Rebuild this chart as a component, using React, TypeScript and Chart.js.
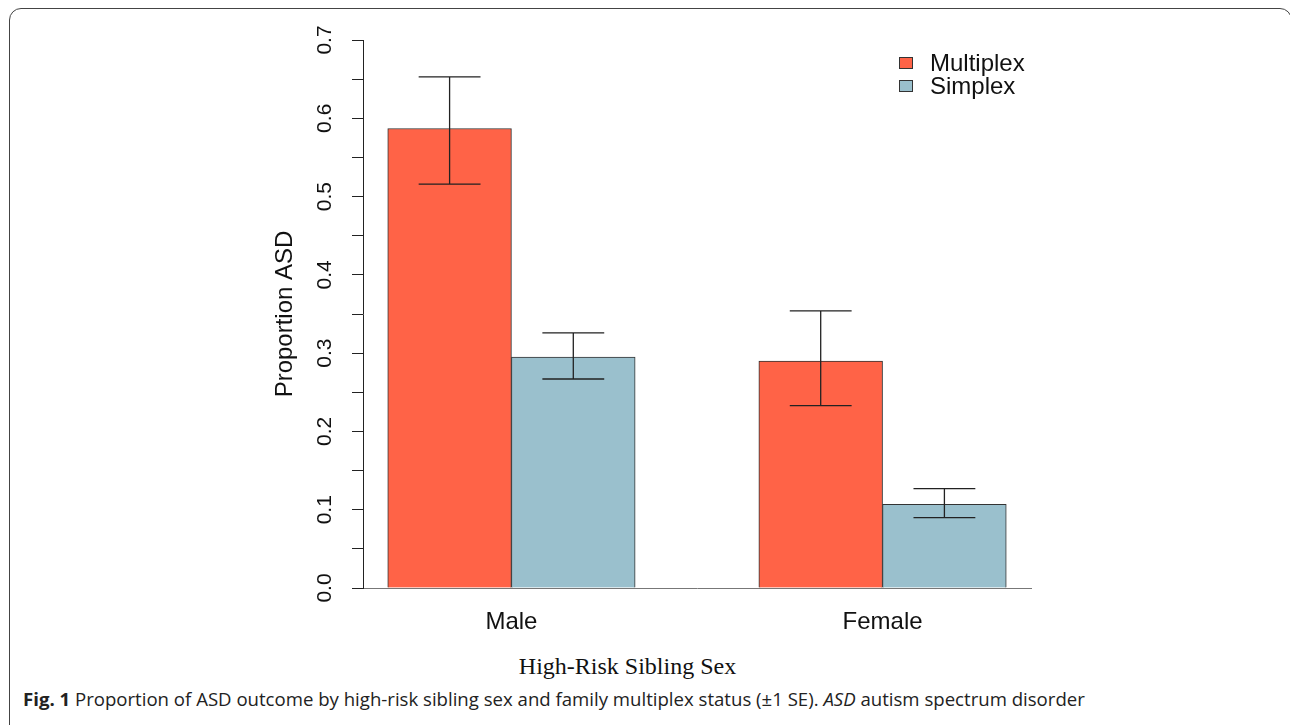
import React, { useEffect, useRef } from 'react';
import { Chart, registerables } from 'chart.js';

Chart.register(...registerables);

// ---- data ----
const categories = ['Male', 'Female'];
const seriesNames = ['Multiplex', 'Simplex'];
const multiplexValues = [0.587, 0.29];
const multiplexLower = [0.516, 0.233];
const multiplexUpper = [0.653, 0.354];
const simplexValues = [0.295, 0.107];
const simplexLower = [0.267, 0.09];
const simplexUpper = [0.326, 0.127];
const yTickLabels = ['0.0', '0.1', '0.2', '0.3', '0.4', '0.5', '0.6', '0.7'];
const seriesColors = ['#FF6347', '#9AC0CD'];

const lowerBySeries = [multiplexLower, simplexLower];
const upperBySeries = [multiplexUpper, simplexUpper];

// barplot layout: each group is two unit-wide bars, groups separated by one unit
const groupCenter = (i: number) => 2 + 3 * i;

const errorBarPlugin = {
  id: 'errorBars',
  afterDatasetsDraw(chart: any) {
    const ctx = chart.ctx;
    const yScale = chart.scales.y;
    chart.data.datasets.forEach((_ds: any, di: number) => {
      const meta = chart.getDatasetMeta(di);
      meta.data.forEach((el: any, i: number) => {
        const x = el.x;
        const half = el.width / 4;
        const yl = yScale.getPixelForValue(lowerBySeries[di][i]);
        const yh = yScale.getPixelForValue(upperBySeries[di][i]);
        ctx.save();
        ctx.strokeStyle = '#222';
        ctx.lineWidth = 1.3;
        ctx.beginPath();
        ctx.moveTo(x, yl);
        ctx.lineTo(x, yh);
        ctx.moveTo(x - half, yl);
        ctx.lineTo(x + half, yl);
        ctx.moveTo(x - half, yh);
        ctx.lineTo(x + half, yh);
        ctx.stroke();
        ctx.restore();
      });
    });
  },
};

const SANS = "'Liberation Sans', Arial, Helvetica, sans-serif";

export default function App() {
  const canvasRef = useRef<HTMLCanvasElement | null>(null);

  useEffect(() => {
    if (!canvasRef.current) return;
    const chart = new Chart(canvasRef.current, {
      type: 'bar',
      data: {
        datasets: [
          {
            label: seriesNames[0],
            data: multiplexValues.map((v, i) => ({ x: groupCenter(i) - 0.5, y: v })),
            backgroundColor: seriesColors[0],
            borderColor: '#333',
            borderWidth: 1,
            grouped: false,
            barPercentage: 1,
            categoryPercentage: 1,
          } as any,
          {
            label: seriesNames[1],
            data: simplexValues.map((v, i) => ({ x: groupCenter(i) + 0.5, y: v })),
            backgroundColor: seriesColors[1],
            borderColor: '#333',
            borderWidth: 1,
            grouped: false,
            barPercentage: 1,
            categoryPercentage: 1,
          } as any,
        ],
      },
      options: {
        animation: false,
        responsive: true,
        maintainAspectRatio: false,
        layout: { padding: { left: 253, right: 259, top: 40, bottom: 12 } },
        plugins: { legend: { display: false }, tooltip: { enabled: false } },
        scales: {
          x: {
            type: 'linear',
            min: 0.8,
            max: 6.2,
            offset: false,
            afterBuildTicks: (s: any) => {
              s.ticks = categories.map((_c, i) => ({ value: groupCenter(i) }));
            },
            afterFit: (s: any) => {
              s.height = 50;
            },
            grid: { display: false },
            border: { display: true, color: '#777', width: 1 },
            ticks: {
              autoSkip: false,
              maxRotation: 0,
              padding: 12,
              color: '#111',
              font: { family: SANS, size: 24 },
              callback: (_v: any, i: number) => categories[i],
            },
          } as any,
          y: {
            min: 0,
            max: 0.7,
            afterFit: (s: any) => {
              s.width = 110;
            },
            grid: { drawOnChartArea: false, drawTicks: true, tickLength: 11, color: '#222' },
            border: { display: true, color: '#222', width: 1 },
            ticks: {
              stepSize: 0.05,
              autoSkip: false,
              minRotation: 90,
              maxRotation: 90,
              crossAlign: 'center',
              padding: 12,
              color: '#111',
              font: { family: SANS, size: 21 },
              callback: (v: any) => {
                const k = Math.round(Number(v) * 20);
                return k % 2 === 0 ? yTickLabels[k / 2] : '';
              },
            },
            title: {
              display: true,
              text: 'Proportion ASD',
              color: '#111',
              font: { family: SANS, size: 24 },
              padding: { top: 18, bottom: 0 },
            },
          } as any,
        },
      },
      plugins: [errorBarPlugin],
    });
    return () => chart.destroy();
  }, []);

  return (
    <div
      style={{
        position: 'fixed',
        left: 0,
        top: 0,
        width: 1290,
        height: 725,
        overflow: 'hidden',
        background: '#fff',
      }}
    >
      <div
        style={{
          position: 'absolute',
          left: 9,
          top: 8,
          width: 1283,
          height: 740,
          border: '1.5px solid #444',
          borderRadius: 12,
          boxSizing: 'border-box',
        }}
      />
      <div style={{ position: 'absolute', left: 0, top: 0, width: 1290, height: 650 }}>
        <canvas ref={canvasRef} />
      </div>
      {/* legend */}
      {seriesNames.map((name, i) => (
        <React.Fragment key={name}>
          <div
            style={{
              position: 'absolute',
              left: 899,
              top: 57 + i * 22.5,
              width: 14,
              height: 12,
              boxSizing: 'border-box',
              border: '1px solid #333',
              background: seriesColors[i],
            }}
          />
          <div
            style={{
              position: 'absolute',
              left: 930,
              top: 51.4 + i * 22.5,
              fontFamily: SANS,
              fontSize: 24,
              lineHeight: '24px',
              color: '#111',
              whiteSpace: 'nowrap',
            }}
          >
            {name}
          </div>
        </React.Fragment>
      ))}
      {/* x-axis title */}
      <div
        style={{
          position: 'absolute',
          left: 0,
          width: 1255,
          top: 654,
          textAlign: 'center',
          fontFamily: "'Liberation Serif', 'Times New Roman', serif",
          fontSize: 24,
          lineHeight: '24px',
          color: '#111',
        }}
      >
        High-Risk Sibling Sex
      </div>
      {/* caption */}
      <div
        style={{
          position: 'absolute',
          left: 23,
          top: 688,
          fontFamily: "'Open Sans', sans-serif",
          fontSize: 18.6,
          lineHeight: '22px',
          color: '#222',
          whiteSpace: 'nowrap',
        }}
      >
        <b>Fig. 1</b> Proportion of ASD outcome by high-risk sibling sex and family multiplex status (±1 SE).{' '}
        <i>ASD</i> autism spectrum disorder
      </div>
    </div>
  );
}
